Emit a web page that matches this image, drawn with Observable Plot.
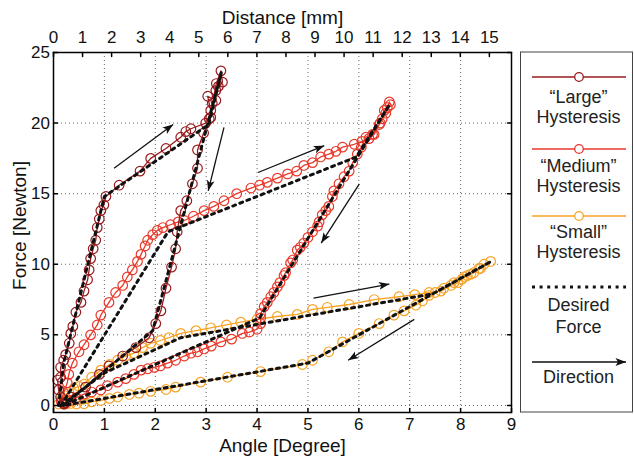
<!DOCTYPE html>
<html><head><meta charset="utf-8">
<script src="https://cdn.jsdelivr.net/npm/d3@7"></script>
<script src="https://cdn.jsdelivr.net/npm/@observablehq/plot@0.6"></script>
<style>body{margin:0;background:#fff} svg{display:block}</style>
</head><body><div id="chart"></div>
<script>
// ---- axes ----
const angleTicks = [0,1,2,3,4,5,6,7,8,9];
const forceTicks = [0,5,10,15,20,25];
const distanceTicks = [0,1,2,3,4,5,6,7,8,9,10,11,12,13,14,15];
const mmToDeg = 8.565 / 15; // top axis: 15 mm sits at 8.565 degrees

// ---- colours ----
const largeColor = "#981b1e";
const mediumColor = "#e8392b";
const smallColor = "#f6a327";

// ---- measured force [angle, force] ----
const largeMeasured = [[0.2,0.1],[0.14,0.6],[0.1,1.1],[0.08,1.8],[0.14,2.0],[0.14,2.7],[0.2,3.2],[0.24,3.6],[0.31,4.4],[0.34,5.1],[0.38,5.6],[0.44,6.6],[0.54,7.3],[0.6,8.1],[0.67,8.9],[0.7,9.6],[0.73,10.4],[0.78,11.1],[0.83,11.7],[0.86,12.6],[0.9,13.2],[0.93,13.8],[0.99,14.2],[1.03,14.8],[1.29,15.6],[1.7,16.6],[1.91,17.5],[2.21,18.2],[2.5,19.0],[2.6,19.4],[2.7,19.6],[2.99,20.0],[3.06,20.3],[3.09,20.9],[3.03,21.9],[3.19,21.6],[3.19,22.3],[3.24,22.6],[3.32,22.9],[3.29,23.7],[3.2,22.8],[3.12,21.4],[3.09,20.4],[2.95,19.3],[2.83,18.1],[2.83,16.8],[2.73,15.7],[2.62,14.5],[2.5,13.8],[2.43,12.3],[2.4,11.1],[2.32,9.8],[2.21,8.3],[2.11,6.7],[2.01,5.8],[1.88,4.8],[1.62,4.1],[1.36,3.5],[1.09,2.8],[0.9,2.2],[0.63,1.3],[0.34,0.6],[0.24,0.2],[0.21,0.1]];
const mediumMeasured = [[0.15,0.3],[0.2,0.9],[0.27,1.6],[0.3,2.2],[0.37,3.0],[0.5,3.8],[0.6,4.3],[0.73,5.0],[0.86,5.7],[0.93,6.4],[1.09,7.3],[1.22,8.0],[1.36,8.5],[1.45,9.1],[1.55,9.6],[1.65,10.2],[1.72,10.7],[1.8,11.3],[1.85,11.7],[1.95,12.1],[2.04,12.4],[2.15,12.6],[2.3,12.8],[2.45,13.0],[2.57,13.1],[2.75,13.4],[2.96,13.8],[3.15,14.1],[3.35,14.5],[3.6,15.0],[3.88,15.4],[4.05,15.6],[4.2,15.8],[4.4,16.1],[4.6,16.4],[4.78,16.6],[4.92,17.0],[5.09,17.2],[5.25,17.6],[5.41,17.8],[5.55,18.0],[5.68,18.3],[5.91,18.5],[6.06,18.7],[6.2,18.9],[6.3,19.2],[6.4,19.9],[6.46,20.3],[6.5,20.9],[6.56,21.1],[6.6,21.5],[6.62,21.3],[6.53,20.7],[6.42,20.0],[6.27,19.2],[6.14,19.0],[6.05,18.3],[5.97,17.8],[5.88,17.2],[5.81,16.6],[5.71,16.2],[5.61,15.7],[5.51,15.2],[5.48,14.8],[5.41,14.1],[5.35,13.8],[5.28,13.5],[5.22,13.0],[5.19,12.7],[5.09,12.3],[5.0,11.9],[4.92,11.5],[4.85,11.2],[4.79,11.0],[4.7,10.3],[4.66,10.1],[4.56,9.4],[4.53,9.2],[4.45,8.7],[4.4,8.4],[4.33,8.0],[4.27,7.7],[4.2,7.3],[4.14,7.0],[4.07,6.5],[4.07,6.2],[4.07,5.8],[4.0,5.4],[3.85,5.2],[3.71,5.1],[3.5,4.7],[3.29,4.5],[3.1,4.2],[2.96,4.0],[2.83,3.8],[2.7,3.7],[2.57,3.5],[2.4,3.2],[2.24,3.0],[2.1,2.8],[1.98,2.7],[1.85,2.6],[1.72,2.5],[1.58,2.2],[1.42,1.9],[1.26,1.65],[1.06,1.4],[0.93,1.1],[0.75,0.95],[0.6,0.8],[0.45,0.55],[0.34,0.35],[0.2,0.2]];
const smallMeasured = [[0.1,0.1],[0.15,0.4],[0.22,0.7],[0.3,0.95],[0.4,1.2],[0.5,1.35],[0.6,1.5],[0.75,2.0],[0.93,2.5],[1.1,2.9],[1.26,3.2],[1.42,3.5],[1.58,3.7],[1.75,4.1],[1.91,4.4],[2.1,4.6],[2.27,4.8],[2.5,5.1],[2.8,5.3],[3.09,5.5],[3.4,5.7],[3.68,5.9],[4.0,6.1],[4.4,6.3],[4.79,6.45],[5.09,6.8],[5.38,6.95],[5.81,7.15],[6.3,7.5],[6.79,7.7],[7.1,7.85],[7.38,8.0],[7.61,8.1],[7.81,8.5],[7.95,8.7],[8.03,8.95],[8.13,9.2],[8.26,9.4],[8.36,9.7],[8.46,10.0],[8.59,10.2],[8.39,9.7],[8.2,9.3],[8.07,9.1],[7.87,8.7],[7.67,8.3],[7.5,8.0],[7.38,7.8],[7.25,7.4],[7.12,7.1],[6.89,6.7],[6.69,6.4],[6.4,5.8],[6.0,5.1],[5.68,4.5],[5.41,3.8],[5.09,3.2],[4.89,2.9],[4.07,2.4],[3.42,2.0],[2.89,1.65],[2.4,1.3],[2.21,1.13],[1.91,1.0],[1.68,0.87],[1.49,0.78],[1.26,0.6],[1.1,0.5],[0.93,0.35],[0.75,0.25],[0.6,0.12],[0.45,0.1],[0.34,0.14],[0.25,0.1]];

// ---- desired force [angle, force] ----
const largeDesired = [[0.1,0],[0.2,3.0],[1.0,14.8],[3.05,19.9],[3.3,23.6],[1.95,5.3],[0.2,0]];
const mediumDesired = [[0.15,0],[2.25,12.3],[5.95,17.6],[6.6,21.3],[4.05,6.2],[0.2,0]];
const smallDesired = [[0.15,0],[1.0,2.3],[2.5,4.8],[7.45,7.9],[8.6,10.2],[5.0,3.0],[0.2,0]];

// ---- direction arrows [angle1, force1, angle2, force2] ----
const arrows = [[1.19,16.8,2.35,19.9],[3.35,19.7,3.04,15.2],[4.02,16.5,5.32,18.4],[6.01,15.7,5.26,11.5],[5.11,7.6,6.6,8.6],[7.09,6.1,5.79,3.2]];

const legendItems = [
  {label: ["\u201CLarge\u201D", "Hysteresis"], color: largeColor},
  {label: ["\u201CMedium\u201D", "Hysteresis"], color: mediumColor},
  {label: ["\u201CSmall\u201D", "Hysteresis"], color: smallColor}
];

const tickShape = {draw(context, l) { context.moveTo(0, 0); context.lineTo(0, -l); }};
const dash = "3,4.6";
const gx = d => d[0], gy = d => d[1];

const series = [[smallMeasured, smallColor], [mediumMeasured, mediumColor], [largeMeasured, largeColor]];

const plot = Plot.plot({
  width: 634, height: 460,
  marginLeft: 53, marginRight: 123, marginTop: 52, marginBottom: 48,
  style: {fontFamily: "'Liberation Sans', Arial, Helvetica, sans-serif", fontSize: "17px", background: "white", color: "#111"},
  x: {domain: [0, 9]},
  y: {domain: [-0.5, 25]},
  marks: [
    Plot.gridX(angleTicks.slice(1, -1), {stroke: "#666", strokeOpacity: 1, strokeWidth: 1, strokeDasharray: "1,3"}),
    Plot.gridY(forceTicks.slice(0, -1), {stroke: "#666", strokeOpacity: 1, strokeWidth: 1, strokeDasharray: "1,3"}),
    ...series.flatMap(([data, color]) => [
      Plot.line(data, {x: gx, y: gy, stroke: color, strokeWidth: 1.3}),
      Plot.dot(data, {x: gx, y: gy, r: 4.8, stroke: color, strokeWidth: 1.2, fill: "none"})
    ]),
    ...[largeDesired, mediumDesired, smallDesired].map(data =>
      Plot.line(data, {x: gx, y: gy, stroke: "#111", strokeWidth: 3, strokeDasharray: dash})
    ),
    Plot.link(arrows, {x1: d => d[0], y1: d => d[1], x2: d => d[2], y2: d => d[3], stroke: "#111", strokeWidth: 1.3}),
    Plot.axisX(angleTicks, {anchor: "bottom", tickSize: 0, tickPadding: 5, label: null}),
    Plot.axisY(forceTicks, {anchor: "left", tickSize: 0, tickPadding: 3.5, label: null}),
    Plot.text(distanceTicks, {x: d => d * mmToDeg, frameAnchor: "top", lineAnchor: "middle", textAnchor: "middle", dy: -14.5, text: d => `${d}`}),
    Plot.vector(angleTicks, {x: d => d, frameAnchor: "bottom", length: 4, anchor: "start", shape: tickShape, stroke: "black"}),
    Plot.vector(distanceTicks, {x: d => d * mmToDeg, frameAnchor: "top", length: 4, rotate: 180, anchor: "start", shape: tickShape, stroke: "black"}),
    Plot.vector(forceTicks, {y: d => d, frameAnchor: "left", length: 4, rotate: 90, anchor: "start", shape: tickShape, stroke: "black"}),
    Plot.vector(forceTicks, {y: d => d, frameAnchor: "right", length: 4, rotate: -90, anchor: "start", shape: tickShape, stroke: "black"}),
    Plot.frame({stroke: "black", strokeWidth: 1.5}),
    Plot.text(["Angle [Degree]"], {frameAnchor: "bottom", lineAnchor: "middle", textAnchor: "middle", dy: 33, fontSize: 19, text: d => d}),
    Plot.text(["Distance [mm]"], {frameAnchor: "top", lineAnchor: "middle", textAnchor: "middle", dy: -34.5, fontSize: 19, text: d => d}),
    Plot.text(["Force [Newton]"], {frameAnchor: "left", lineAnchor: "middle", textAnchor: "middle", dx: -34, dy: -7, rotate: -90, fontSize: 19, text: d => d})
  ]
});

document.getElementById("chart").appendChild(plot);

// filled arrow heads
const svg = d3.select(plot);
const defs = svg.append("defs");
defs.append("marker")
  .attr("id", "dirhead").attr("markerUnits", "userSpaceOnUse")
  .attr("markerWidth", 14).attr("markerHeight", 10)
  .attr("viewBox", "-12 -5 14 10").attr("refX", 0).attr("refY", 0)
  .attr("orient", "auto")
  .append("path").attr("d", "M0,0L-10.5,-3.9L-8,0L-10.5,3.9Z").attr("fill", "#111");
svg.selectAll('g[aria-label="link"] path').attr("marker-end", "url(#dirhead)");

// legend
const lg = svg.append("g").attr("font-family", "'Liberation Sans', Arial, Helvetica, sans-serif").attr("font-size", 18).attr("fill", "#222").attr("text-anchor", "middle");
lg.append("rect").attr("x", 520.5).attr("y", 52).attr("width", 112).attr("height", 360).attr("fill", "none").attr("stroke", "#444").attr("stroke-width", 1);
const lineY = [77, 149, 216];
const textY = [[103, 123], [172, 192], [238, 258]];
legendItems.forEach((it, i) => {
  lg.append("line").attr("x1", 532).attr("x2", 626).attr("y1", lineY[i]).attr("y2", lineY[i]).attr("stroke", it.color).attr("stroke-width", 1.3);
  lg.append("circle").attr("cx", 579).attr("cy", lineY[i]).attr("r", 4.3).attr("fill", "white").attr("stroke", it.color).attr("stroke-width", 1.3);
  it.label.forEach((t, j) => lg.append("text").attr("x", 578.5).attr("y", textY[i][j]).text(t));
});
lg.append("line").attr("x1", 532).attr("x2", 626).attr("y1", 287).attr("y2", 287).attr("stroke", "#111").attr("stroke-width", 3).attr("stroke-dasharray", dash);
lg.append("text").attr("x", 578.5).attr("y", 311).text("Desired");
lg.append("text").attr("x", 578.5).attr("y", 333).text("Force");
lg.append("line").attr("x1", 532).attr("x2", 626).attr("y1", 362).attr("y2", 362).attr("stroke", "#111").attr("stroke-width", 1.3).attr("marker-end", "url(#dirhead)");
lg.append("text").attr("x", 578.5).attr("y", 383).text("Direction");
</script>
</body></html>
